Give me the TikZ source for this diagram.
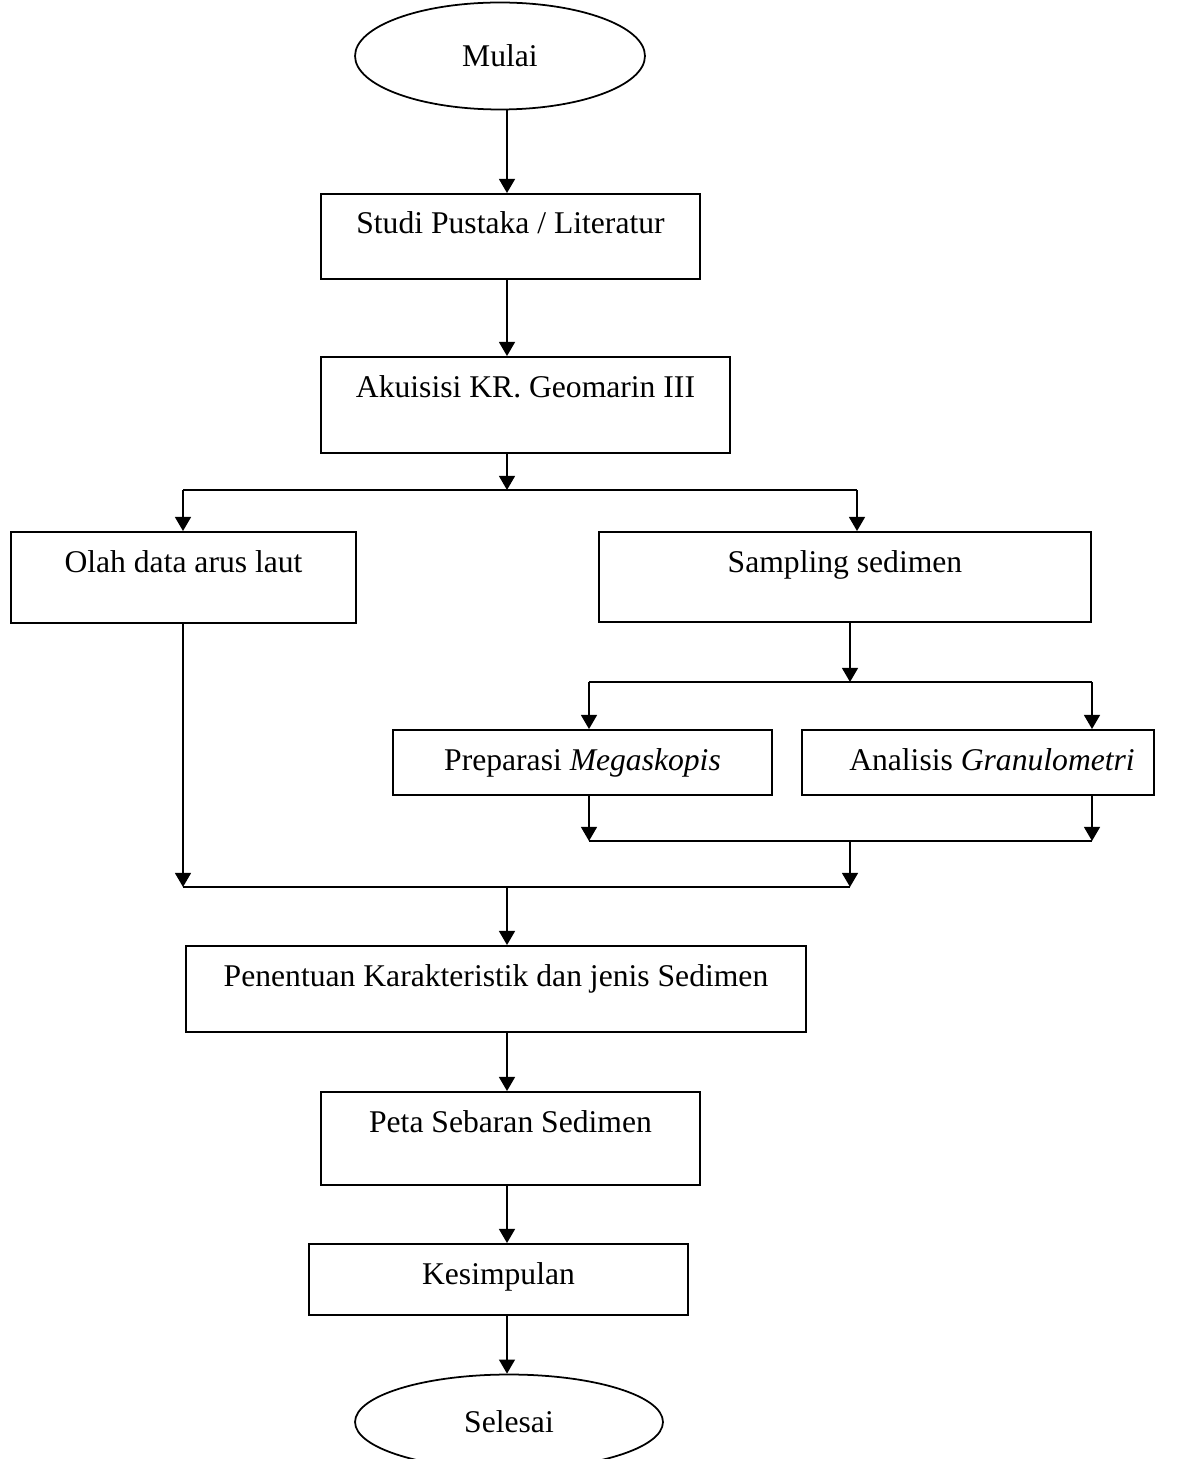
\documentclass[tikz,border=0pt]{standalone}
\usepackage{fontspec}
\setmainfont{Liberation Serif}
\usetikzlibrary{arrows.meta,shapes.geometric}

\tikzset{
	huruf/.style={font=\fontsize{18pt}{21pt}\selectfont},
	kotak/.style 2 args={draw,line width=1.1pt,huruf,inner xsep=2pt,inner ysep=0pt,
		minimum width=#1,text height=0.8cm,text depth=#2},
	oval/.style 2 args={draw,ellipse,line width=1pt,huruf,inner sep=0pt,
		minimum width=#1,minimum height=#2},
	panah/.style={line width=1.1pt,-{Triangle[length=8pt,width=9pt]}},
	garis/.style={line width=1.1pt},
}

\begin{document}
\begin{tikzpicture}[x=0.02cm,y=-0.02cm]
		\useasboundingbox (0,0) rectangle (1187,1459);
		\clip (0,0) rectangle (1187,1459);
		% simpul
		\node[oval={5.8cm}{2.14cm}] (mulai) at (500,56) {Mulai};
		\node[kotak={7.58cm}{0.9cm}] (studi) at (510.5,236.5) {Studi Pustaka / Literatur};
		\node[kotak={8.18cm}{1.12cm}] (akuisisi) at (525.5,405) {Akuisisi KR. Geomarin III};
		\node[kotak={6.9cm}{1.02cm}] (olah) at (183.5,577.5) {Olah data arus laut};
		\node[kotak={9.84cm}{1cm}] (sampling) at (845,577) {Sampling sedimen};
		\node[kotak={7.58cm}{0.5cm}] (preparasi) at (582.5,762.5) {Preparasi \textit{Megaskopis}};
		\node[kotak={7.04cm}{0.5cm}] (analisis) at (978,762.5) {\hspace*{0.56cm}Analisis \textit{Granulometri}};
		\node[kotak={12.4cm}{0.92cm}] (penentuan) at (496,989) {Penentuan Karakteristik dan jenis Sedimen};
		\node[kotak={7.58cm}{1.06cm}] (peta) at (510.5,1138.5) {Peta Sebaran Sedimen};
		\node[kotak={7.58cm}{0.62cm}] (kesimpulan) at (498.5,1279.5) {Kesimpulan};
		\node[oval={6.16cm}{1.9cm}] (selesai) at (509,1422) {Selesai};
		% titik cabang
		\coordinate (c1) at (507,490);
		\coordinate (c1L) at (183,490);
		\coordinate (c1R) at (857,490);
		\coordinate (c2) at (850,682);
		\coordinate (c2L) at (589,682);
		\coordinate (c2R) at (1092,682);
		\coordinate (c3) at (850,841);
		\coordinate (c3L) at (589,841);
		\coordinate (c3R) at (1092,841);
		\coordinate (c4) at (507,887);
		\coordinate (c4L) at (183,887);
		\coordinate (c4R) at (850,887);
		% alur
		\draw[panah](mulai.south -| c1)--(studi.north -| c1);
		\draw[panah](studi.south -| c1)--(akuisisi.north -| c1);
		\draw[panah](akuisisi.south -| c1)--(c1);
		\draw[garis](c1L)--(c1R);
		\draw[panah](c1L)--(olah.north -| c1L);
		\draw[panah](c1R)--(sampling.north -| c1R);
		\draw[panah](sampling.south -| c2)--(c2);
		\draw[garis](c2L)--(c2R);
		\draw[panah](c2L)--(preparasi.north -| c2L);
		\draw[panah](c2R)--(analisis.north -| c2R);
		\draw[panah](preparasi.south -| c3L)--(c3L);
		\draw[panah](analisis.south -| c3R)--(c3R);
		\draw[garis](c3L)--(c3R);
		\draw[panah](c3)--(c4R);
		\draw[panah](olah.south -| c4L)--(c4L);
		\draw[garis](c4L)--(c4R);
		\draw[panah](c4)--(penentuan.north -| c4);
		\draw[panah](penentuan.south -| c4)--(peta.north -| c4);
		\draw[panah](peta.south -| c4)--(kesimpulan.north -| c4);
		\draw[panah](kesimpulan.south -| c4)--(selesai.north -| c4);
	\end{tikzpicture}
\end{document}
